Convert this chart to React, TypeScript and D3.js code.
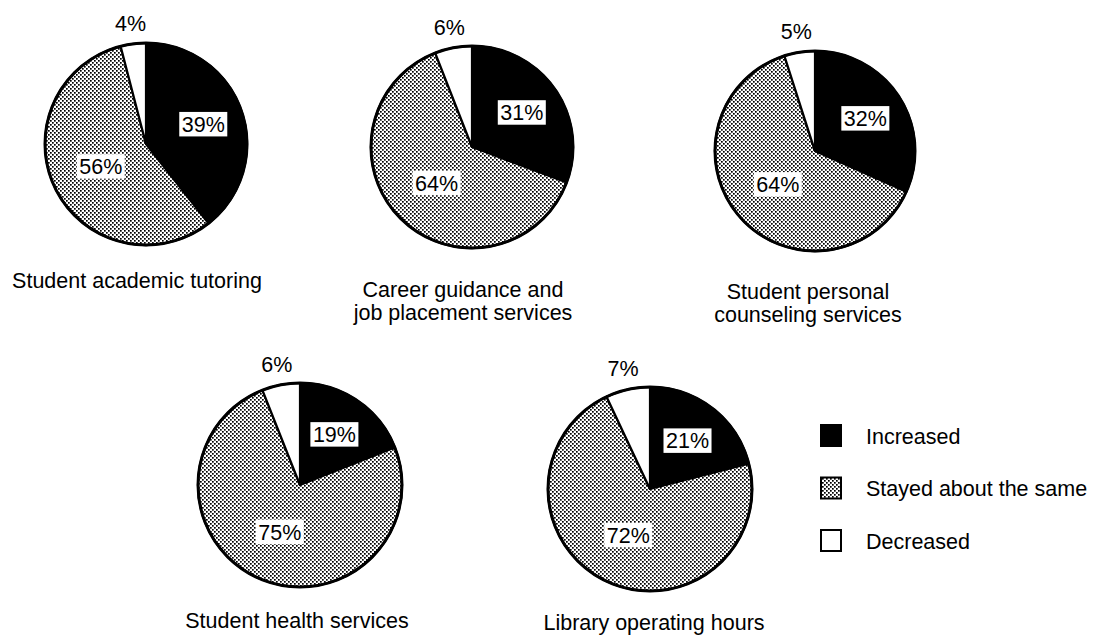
import React from "react";
import * as d3 from "d3";

const categories: string[][] = [
  ["Student academic tutoring"],
  ["Career guidance and", "job placement services"],
  ["Student personal", "counseling services"],
  ["Student health services"],
  ["Library operating hours"],
];
const increased = [39, 31, 32, 19, 21];
const stayedSame = [56, 64, 64, 75, 72];
const decreased = [4, 6, 5, 6, 7];
const seriesNames = ["Increased", "Stayed about the same", "Decreased"];

const layout = [
  { cx: 146, cy: 144, r: 101, tx: 137, ty: 288 },
  { cx: 472, cy: 147, r: 101, tx: 463, ty: 297 },
  { cx: 815, cy: 151, r: 100, tx: 808, ty: 299 },
  { cx: 300, cy: 485, r: 102, tx: 297, ty: 628 },
  { cx: 650, cy: 489, r: 102, tx: 654, ty: 630 },
];

const FONT = "'Liberation Sans', Arial, Helvetica, sans-serif";
const FS = 21.5;
const LINE = 23;
const fills = ["#000", "url(#halftone)", "#fff"];
const labelK = [0.6, 0.5, 1.21];

function textWidth(s: string) {
  let w = 0;
  for (const ch of s) w += ch === "%" ? 0.889 : 0.556;
  return w * FS;
}

function Pie({ idx }: { idx: number }) {
  const { cx, cy, r, tx, ty } = layout[idx];
  const values = [increased[idx], stayedSame[idx], decreased[idx]];
  const pie = d3
    .pie<number>()
    .sort(null)
    .startAngle(0)
    .endAngle(2 * Math.PI)
    .value((d) => d);
  const arcs = pie(values);
  const arc = d3.arc<d3.PieArcDatum<number>>().innerRadius(0).outerRadius(r);
  return (
    <g>
      <g transform={`translate(${cx},${cy})`}>
        {arcs.map((a, i) => (
          <path
            key={i}
            d={arc(a) || ""}
            fill={fills[i]}
            stroke="#000"
            strokeWidth={2.2}
            strokeLinejoin="round"
          />
        ))}
        <circle r={r} fill="none" stroke="#000" strokeWidth={3} />
        {arcs.map((a, i) => {
          const k = labelK[i] * r;
          const la = d3.arc<d3.PieArcDatum<number>>().innerRadius(k).outerRadius(k);
          const [x, y] = la.centroid(a);
          const txt = `${values[i]}%`;
          const w = textWidth(txt) + 5;
          const h = FS + 3;
          return (
            <g key={"l" + i}>
              {i < 2 && (
                <rect x={x - w / 2} y={y - h / 2} width={w} height={h} fill="#fff" />
              )}
              <text
                x={x}
                y={y}
                dy="0.36em"
                textAnchor="middle"
                fontFamily={FONT}
                fontSize={FS}
                fill="#000"
              >
                {txt}
              </text>
            </g>
          );
        })}
      </g>
      <text x={tx} y={ty} textAnchor="middle" fontFamily={FONT} fontSize={FS} fill="#000">
        {categories[idx].map((line, j) => (
          <tspan key={j} x={tx} dy={j === 0 ? 0 : LINE}>
            {line}
          </tspan>
        ))}
      </text>
    </g>
  );
}

export default function App() {
  const legendY = d3.scalePoint<string>().domain(seriesNames).range([436, 541]);
  return (
    <svg
      width={1093}
      height={636}
      style={{ position: "absolute", left: 0, top: 0, background: "#fff" }}
    >
      <defs>
        <pattern id="halftone" width={4} height={4} patternUnits="userSpaceOnUse">
          <rect width={4} height={4} fill="#fff" />
          <rect x={0} y={0} width={1.7} height={1.7} fill="#000" />
          <rect x={2} y={2} width={1.7} height={1.7} fill="#000" />
        </pattern>
      </defs>
      <rect width={1093} height={636} fill="#fff" />
      {categories.map((_, i) => (
        <Pie key={i} idx={i} />
      ))}
      {seriesNames.map((name, i) => {
        const y = legendY(name) as number;
        return (
          <g key={name}>
            <rect
              x={821}
              y={y - 11}
              width={20}
              height={21}
              fill={fills[i]}
              stroke="#000"
              strokeWidth={2}
            />
            <text x={866} y={y} dy="0.36em" fontFamily={FONT} fontSize={FS} fill="#000">
              {name}
            </text>
          </g>
        );
      })}
    </svg>
  );
}
